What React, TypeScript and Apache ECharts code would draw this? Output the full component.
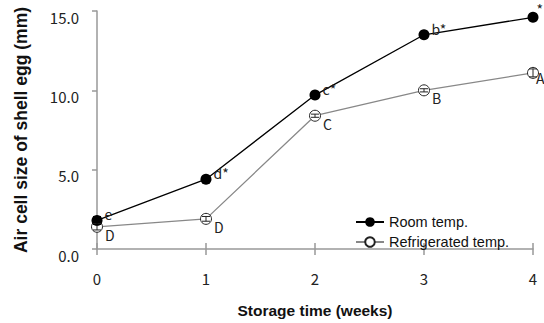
import React, { useEffect, useRef } from "react";
import * as echarts from "echarts";

const weeks = ["0", "1", "2", "3", "4"];
const roomValues = [1.8, 4.4, 9.7, 13.5, 14.6];
const roomErrors = [0.25, 0.1, 0.15, 0.1, 0.1];
const roomLabels = ["e", "d*", "c*", "b*", "*"];
const fridgeValues = [1.4, 1.9, 8.4, 10.0, 11.1];
const fridgeErrors = [0.2, 0.15, 0.1, 0.1, 0.25];
const fridgeLabels = ["D", "D", "C", "B", "A"];
const yTicks = [0, 5, 10, 15];

export default function App() {
  const ref = useRef<HTMLDivElement>(null);
  useEffect(() => {
    const chart = echarts.init(ref.current!, null, { renderer: "svg" });
    const tickFont = '"Noto Sans CJK KR", "Noto Sans", sans-serif';
    const sansFont = '"Liberation Sans", Arial, sans-serif';
    const errSeries = (name: string, vals: number[], errs: number[], color: string) => ({
      type: "custom",
      name: name + "-err",
      xAxisIndex: 0,
      yAxisIndex: 0,
      z: 5,
      silent: true,
      data: vals.map((v, i) => [i, v - errs[i], v + errs[i]]),
      renderItem: (params: any, api: any) => {
        const x = api.coord([api.value(0), 0])[0];
        const lo = api.coord([api.value(0), api.value(1)])[1];
        const hi = api.coord([api.value(0), api.value(2)])[1];
        const w = 4;
        const style = { stroke: color, lineWidth: 1 };
        return {
          type: "group",
          children: [
            { type: "line", shape: { x1: x, y1: lo, x2: x, y2: hi }, style },
            { type: "line", shape: { x1: x - w, y1: lo, x2: x + w, y2: lo }, style },
            { type: "line", shape: { x1: x - w, y1: hi, x2: x + w, y2: hi }, style },
          ],
        };
      },
    });
    const lastIdx = weeks.length - 1;
    chart.setOption({
      animation: false,
      grid: { left: 97, right: 11, top: 11, bottom: 63 },
      legend: {
        data: ["Room temp.", "Refrigerated temp."],
        orient: "vertical",
        left: 355,
        top: 214,
        padding: 0,
        itemWidth: 28,
        itemHeight: 12,
        itemGap: 4,
        textStyle: {
          fontFamily: sansFont,
          fontSize: 14.5,
          lineHeight: 16,
          color: "#111",
          padding: [0, 0, 0, 0],
        },
      },
      xAxis: [
        {
          type: "value",
          min: 0,
          max: 4,
          interval: 1,
          axisLine: { lineStyle: { color: "#999", width: 1.5 } },
          axisTick: { show: true, length: 6, lineStyle: { color: "#999", width: 1.5 } },
          splitLine: { show: false },
          axisLabel: {
            margin: 22,
            fontFamily: tickFont,
            fontSize: 15,
            color: "#222",
            formatter: (v: number) => weeks[v] ?? "",
          },
          name: "Storage time (weeks)",
          nameLocation: "middle",
          nameGap: 53,
          nameTextStyle: {
            fontFamily: sansFont,
            fontWeight: "bold",
            fontSize: 15.5,
            color: "#111",
          },
        },
        {
          type: "value",
          min: 0,
          max: 4,
          interval: 1,
          position: "bottom",
          axisLine: { show: false },
          axisTick: { show: true, inside: true, length: 6, lineStyle: { color: "#999", width: 1.5 } },
          axisLabel: { show: false },
          splitLine: { show: false },
        },
      ],
      yAxis: {
        type: "value",
        min: 0,
        max: 15,
        interval: 5,
        axisLine: { show: true, lineStyle: { color: "#999", width: 1.5 } },
        axisTick: { show: true, length: 5, lineStyle: { color: "#999", width: 1.5 } },
        splitLine: { show: false },
        axisLabel: {
          margin: 18,
          fontFamily: tickFont,
          fontSize: 15,
          color: "#222",
          verticalAlign: "top",
          lineHeight: 12,
          formatter: (v: number) => (yTicks.includes(v) ? v.toFixed(1) : ""),
        },
        name: "Air cell size of shell egg (mm)",
        nameLocation: "middle",
        nameGap: 67,
        nameTextStyle: {
          fontFamily: sansFont,
          fontWeight: "bold",
          fontSize: 17.5,
          color: "#111",
        },
      },
      series: [
        {
          name: "Room temp.",
          type: "line",
          data: roomValues.map((v, i) =>
            i === lastIdx
              ? { value: [i, v], label: { offset: [-4, -8] } }
              : { value: [i, v] }
          ),
          symbol: "circle",
          symbolSize: 11,
          itemStyle: { color: "#000" },
          lineStyle: { color: "#000", width: 1.3 },
          z: 3,
          label: {
            show: true,
            position: "right",
            distance: 2,
            offset: [0, -6],
            fontFamily: tickFont,
            fontSize: 14,
            color: "#222",
            formatter: (p: any) => roomLabels[p.dataIndex],
          },
        },
        {
          name: "Refrigerated temp.",
          type: "line",
          data: fridgeValues.map((v, i) =>
            i === lastIdx
              ? { value: [i, v], label: { offset: [-5, 5] } }
              : { value: [i, v] }
          ),
          symbol: "circle",
          symbolSize: 11,
          itemStyle: { color: "#fff", borderColor: "#222", borderWidth: 1 },
          lineStyle: { color: "#888", width: 1.3 },
          z: 2,
          label: {
            show: true,
            position: "right",
            distance: 2,
            offset: [0, 8],
            fontFamily: tickFont,
            fontSize: 14,
            color: "#222",
            formatter: (p: any) => fridgeLabels[p.dataIndex],
          },
        },
        errSeries("Refrigerated temp.", fridgeValues, fridgeErrors, "#222"),
        errSeries("Room temp.", roomValues, roomErrors, "#000"),
      ],
    });
    return () => chart.dispose();
  }, []);
  return <div ref={ref} style={{ width: 544, height: 323, position: "absolute", left: 0, top: 0 }} />;
}
